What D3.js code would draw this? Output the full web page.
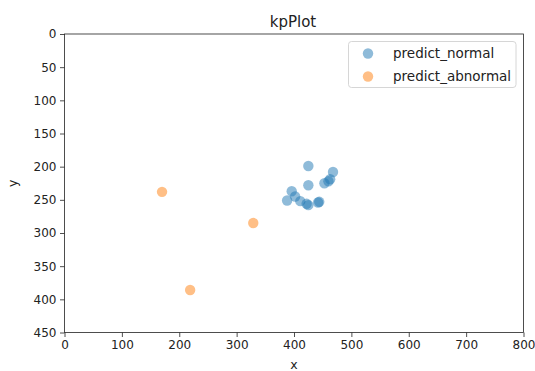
<!DOCTYPE html>
<html><head><meta charset="utf-8">
<script src="https://cdn.jsdelivr.net/npm/d3@7"></script>
<style>body{margin:0;background:#fff;} text{font-family:"DejaVu Sans",sans-serif;}</style>
</head><body>
<script>
const normalX = [425, 425, 468, 463, 460, 453, 396, 388, 402, 411, 422, 425, 444, 442];
const normalY = [199, 228, 208, 219, 222, 225, 237, 251, 245, 252, 256, 258, 253, 254];
const abnormalX = [170, 329, 219];
const abnormalY = [238, 285, 386];
const xTicks = [0, 100, 200, 300, 400, 500, 600, 700, 800];
const yTicks = [0, 50, 100, 150, 200, 250, 300, 350, 400, 450];
const seriesNames = ["predict_normal", "predict_abnormal"];
const colors = ["#1f77b4", "#ff7f0e"];

const W = 535, H = 371;
const m = {left: 64.5, right: 523.5, top: 34, bottom: 332.5};
const svg = d3.select("body").append("svg").attr("width", W).attr("height", H);

const x = d3.scaleLinear().domain([0, 800]).range([m.left, m.right]);
const y = d3.scaleLinear().domain([0, 450]).range([m.top, m.bottom]);

const xAxis = svg.append("g").attr("transform", `translate(0,${m.bottom})`)
  .call(d3.axisBottom(x).tickValues(xTicks).tickSize(4.5).tickPadding(3.5));
const yAxis = svg.append("g").attr("transform", `translate(${m.left},0)`)
  .call(d3.axisLeft(y).tickValues(yTicks).tickSize(4.5).tickPadding(3.5));
[xAxis, yAxis].forEach(g => {
  g.select(".domain").remove();
  g.selectAll("text").attr("font-size", 12).attr("fill", "#222").attr("font-family", "DejaVu Sans");
  g.selectAll("line").attr("stroke", "#222").attr("stroke-width", 0.8);
});

svg.append("rect").attr("x", m.left).attr("y", m.top)
  .attr("width", m.right - m.left).attr("height", m.bottom - m.top)
  .attr("fill", "none").attr("stroke", "#222").attr("stroke-width", 0.8);

const pts = [
  {xs: normalX, ys: normalY, c: colors[0]},
  {xs: abnormalX, ys: abnormalY, c: colors[1]}
];
pts.forEach(s => {
  svg.append("g").selectAll("circle").data(s.xs.map((v, i) => [v, s.ys[i]])).join("circle")
    .attr("cx", d => x(d[0])).attr("cy", d => y(d[1])).attr("r", 5.2)
    .attr("fill", s.c).attr("fill-opacity", 0.5);
});

svg.append("text").attr("x", 293).attr("y", 26.5)
  .attr("text-anchor", "middle").attr("font-size", 15).attr("fill", "#222").text("kpPlot");
svg.append("text").attr("x", (m.left + m.right) / 2).attr("y", 369)
  .attr("text-anchor", "middle").attr("font-size", 12.5).attr("fill", "#222").text("x");
svg.append("text").attr("transform", `translate(17,${(m.top + m.bottom) / 2}) rotate(-90)`)
  .attr("text-anchor", "middle").attr("font-size", 12.5).attr("fill", "#222").text("y");

const lg = svg.append("g");
lg.append("rect").attr("x", 348.5).attr("y", 41.5).attr("width", 167.5).attr("height", 46)
  .attr("rx", 3).attr("fill", "#fff").attr("fill-opacity", 0.8).attr("stroke", "#ccc").attr("stroke-width", 0.8);
seriesNames.forEach((n, i) => {
  lg.append("circle").attr("cx", 368).attr("cy", 53.5 + i * 23).attr("r", 5.2)
    .attr("fill", colors[i]).attr("fill-opacity", 0.5);
  lg.append("text").attr("x", 393).attr("y", 58 + i * 23).attr("font-size", 13.5)
    .attr("fill", "#222").text(n);
});
</script>
</body></html>
